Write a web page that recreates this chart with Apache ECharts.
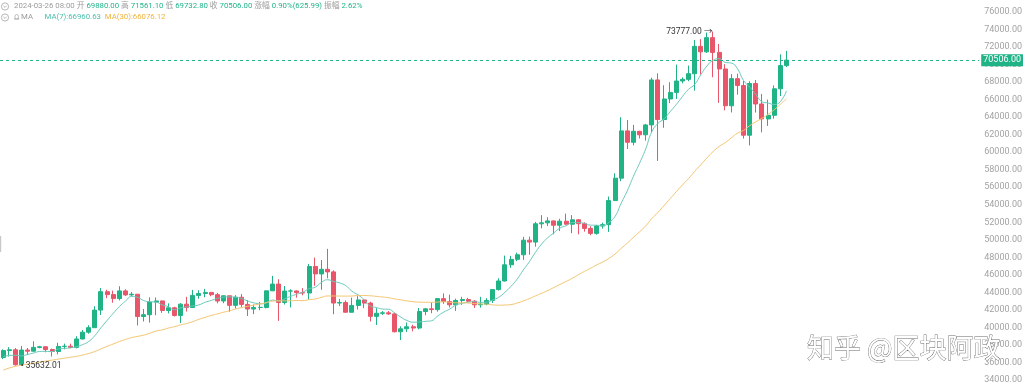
<!DOCTYPE html>
<html>
<head>
<meta charset="utf-8">
<script src="https://cdn.jsdelivr.net/npm/echarts@6/dist/echarts.min.js"></script>
<style>
html,body{margin:0;padding:0;background:#fff;}
#c{width:1025px;height:388px;}
</style>
</head>
<body>
<div id="c"></div>
<script>
// ---- data (BTCUSDT daily) ----
const dates = [
'2023-11-19','2023-11-20','2023-11-21','2023-11-22','2023-11-23','2023-11-24','2023-11-25','2023-11-26','2023-11-27','2023-11-28','2023-11-29','2023-11-30',
'2023-12-01','2023-12-02','2023-12-03','2023-12-04','2023-12-05','2023-12-06','2023-12-07','2023-12-08','2023-12-09','2023-12-10','2023-12-11','2023-12-12','2023-12-13','2023-12-14','2023-12-15','2023-12-16','2023-12-17','2023-12-18','2023-12-19','2023-12-20','2023-12-21','2023-12-22','2023-12-23','2023-12-24','2023-12-25','2023-12-26','2023-12-27','2023-12-28','2023-12-29','2023-12-30','2023-12-31',
'2024-01-01','2024-01-02','2024-01-03','2024-01-04','2024-01-05','2024-01-06','2024-01-07','2024-01-08','2024-01-09','2024-01-10','2024-01-11','2024-01-12','2024-01-13','2024-01-14','2024-01-15','2024-01-16','2024-01-17','2024-01-18','2024-01-19','2024-01-20','2024-01-21','2024-01-22','2024-01-23','2024-01-24','2024-01-25','2024-01-26','2024-01-27','2024-01-28','2024-01-29','2024-01-30','2024-01-31',
'2024-02-01','2024-02-02','2024-02-03','2024-02-04','2024-02-05','2024-02-06','2024-02-07','2024-02-08','2024-02-09','2024-02-10','2024-02-11','2024-02-12','2024-02-13','2024-02-14','2024-02-15','2024-02-16','2024-02-17','2024-02-18','2024-02-19','2024-02-20','2024-02-21','2024-02-22','2024-02-23','2024-02-24','2024-02-25','2024-02-26','2024-02-27','2024-02-28','2024-02-29',
'2024-03-01','2024-03-02','2024-03-03','2024-03-04','2024-03-05','2024-03-06','2024-03-07','2024-03-08','2024-03-09','2024-03-10','2024-03-11','2024-03-12','2024-03-13','2024-03-14','2024-03-15','2024-03-16','2024-03-17','2024-03-18','2024-03-19','2024-03-20','2024-03-21','2024-03-22','2024-03-23','2024-03-24','2024-03-25','2024-03-26'
];
const openV = [
36568,37359,37448,35741,37420,37289,37721,37796,37479,37254,37832,37854,
37723,38682,39457,39973,41980,44080,43746,43293,44170,43713,43789,41243,41450,42890,43023,41929,42240,41365,42657,42271,43652,43869,43997,43740,43017,43613,42520,43442,42627,42099,42283,
42283,44179,44946,42845,44151,44162,43968,43929,46951,46110,46633,46339,42782,42847,41732,42511,43139,42776,41262,41618,41665,41545,39507,39845,40077,39933,41816,42120,42035,43288,42952,
42582,43075,43185,42992,42583,42658,43084,44318,45301,47147,47771,48293,49958,49742,51826,51938,52160,51663,52122,51779,52284,51839,51304,50731,51571,51733,54476,57037,62432,
61130,62387,61987,63113,68245,63724,66074,66823,68124,68313,68955,72078,71452,73072,71388,69499,65300,68393,67610,61937,67840,65501,63796,64209,67234,69880
];
const closeV = [
37359,37448,35741,37420,37289,37721,37796,37479,37254,37832,37854,37723,
38682,39457,39973,41980,44080,43746,43293,44170,43713,43789,41243,41450,42890,43023,41929,42240,41365,42657,42271,43652,43869,43997,43740,43017,43613,42520,43442,42627,42099,42283,42283,
44179,44946,42845,44151,44162,43968,43929,46951,46110,46633,46339,42782,42847,41732,42511,43139,42776,41262,41618,41665,41545,39507,39845,40077,39933,41816,42120,42035,43288,42952,42582,
43075,43185,42992,42583,42658,43084,44318,45301,47147,47771,48293,49958,49742,51826,51938,52160,51663,52122,51779,52284,51839,51304,50731,51571,51733,54476,57037,62432,61130,
62387,61987,63113,68245,63724,66074,66823,68124,68313,68955,72078,71452,73072,71388,69499,65300,68393,67610,61937,67840,65501,63796,64209,67234,69880,70506
];
const highV = [
37500,37750,37649,37892,37653,38414,37892,37820,37589,38250,38150,38145,
38999,39700,40250,42420,44490,44300,44200,44700,44358,44038,43804,42104,43429,43420,43079,42749,42359,42767,43497,44283,44242,44398,44000,43946,43600,43613,43683,43804,43125,42612,42899,
44184,45879,45500,44729,44357,44218,44495,47248,47972,47695,48969,46515,43257,43079,43400,43578,43198,42930,42196,41865,41870,41689,40130,40555,40300,42225,42200,42842,43305,43882,43745,
43285,43488,43380,43119,43494,43344,44368,45614,48200,48170,48535,50334,50368,52043,52816,52574,52200,52400,52985,52817,52366,52000,51548,51698,51955,54938,57588,64000,63676,
63114,62433,63231,68499,69000,67637,67985,69990,68541,69887,72800,72900,73650,73777,72357,70044,68904,68956,68125,68100,68240,66650,65999,67622,71162,71561.1
];
const lowV = [
36384,36677,35632.01,35670,36870,37251,37617,37162,36681,36933,37500,37629,
37615,38627,39280,39973,41415,43335,42821,43081,43584,43565,40222,40680,40555,41400,41666,41605,41250,40500,41811,42207,43275,43442,43566,42750,42765,41794,42167,42318,41300,41520,41965,
42181,44148,40750,42613,42284,43396,43662,43175,44748,44300,45606,41500,42436,41720,41718,42050,42200,40683,40280,41425,41446,39431,38555,39485,39550,39788,41395,41620,41804,42683,42276,
41884,42574,42880,42222,42258,42529,42788,44213,45242,46800,47557,47710,48300,49225,51314,51566,50625,51000,51715,50760,50625,50934,50521,50585,51279,50902,54450,56691,60364,
60777,61561,61321,62300,59005,62787,65603,66082,67861,68094,67024,68845,71333,68555,65630,64780,64533,66565,61555,60775,64529,62260,63000,63825,66414,69732.8
];
// closes of the 29 days before the first visible candle (needed for the moving averages)
const priorCloses = [29910,29990,33070,33900,34500,34150,33900,34090,34540,34490,34650,35420,34940,34730,35080,35050,35050,35420,35640,36700,37320,37140,37070,36490,35550,37880,36160,36600,36570];
const yTicks = {min: 34000, max: 76000, step: 2000};
const lastPrice = 70506;
const highMark = {date: '2024-03-14', value: 73777};
const lowMark = {date: '2023-11-21', value: 35632.01};
const headerInfo = {time: '2024-03-26 08:00', open: '69880.00', high: '71561.10', low: '69732.80', close: '70506.00', change: '0.90%(625.99)', amp: '2.62%'};
const maInfo = {ma7: '66960.63', ma30: '66076.12'};

// ---- chart ----
const upColor = '#1fb386', downColor = '#e9566a';
const maColor7 = '#6bc9bc', maColor30 = '#f4c56f';
const gray = '#9b9b9b', valGreen = '#22b48b';

function movingAvg(n) {
  const all = priorCloses.concat(closeV);
  const off = priorCloses.length;
  return closeV.map((_, i) => {
    const j = i + off;
    let s = 0;
    for (let k = j - n + 1; k <= j; k++) s += all[k];
    return +(s / n).toFixed(2);
  });
}

const candles = dates.map((d, i) => [openV[i], closeV[i], lowV[i], highV[i]]);
const chart = echarts.init(document.getElementById('c'), null, {renderer: 'canvas'});
const font = 'Roboto, "Noto Sans CJK SC", sans-serif';

function chevron(cx, cy) {
  return [
    {type: 'circle', shape: {cx: cx, cy: cy, r: 3.6}, style: {fill: 'none', stroke: '#a5a5a5', lineWidth: 0.8}, silent: true},
    {type: 'polyline', shape: {points: [[cx - 1.6, cy - 0.7], [cx, cy + 0.9], [cx + 1.6, cy - 0.7]]}, style: {fill: 'none', stroke: '#a5a5a5', lineWidth: 0.8}, silent: true}
  ];
}

const option = {
  animation: false,
  backgroundColor: '#fff',
  grid: {left: -3, right: 45, top: 12, bottom: 8},
  xAxis: {
    type: 'category', data: dates, max: 159, boundaryGap: true,
    axisLine: {show: false}, axisTick: {show: false}, axisLabel: {show: false}, splitLine: {show: false}
  },
  yAxis: {
    type: 'value', position: 'right', scale: true,
    min: yTicks.min, max: yTicks.max, interval: yTicks.step,
    axisLine: {show: false}, axisTick: {show: false}, splitLine: {show: false},
    axisLabel: {color: '#a3a3a3', fontSize: 9, fontFamily: font, margin: 5, formatter: v => v.toFixed(2)}
  },
  series: [
    {
      type: 'candlestick', data: candles, barWidth: 4.5, z: 2,
      itemStyle: {color: upColor, color0: downColor, borderColor: upColor, borderColor0: downColor, borderWidth: 1},
      markLine: {
        silent: true, symbol: ['none', 'none'], animation: false,
        lineStyle: {color: upColor, type: [3, 3], width: 1},
        label: {show: true, position: 'end', distance: 2, formatter: lastPrice.toFixed(2), color: '#fff', backgroundColor: upColor, padding: [2, 2, 1, 2], fontSize: 9, fontFamily: font},
        data: [{yAxis: lastPrice}], z: 10
      },
      markPoint: {
        symbol: 'circle', symbolSize: 1, itemStyle: {color: 'rgba(0,0,0,0)'},
        data: [
          {coord: [highMark.date, highMark.value], label: {show: true, position: 'left', distance: 0, formatter: highMark.value.toFixed(2) + ' \u2192', color: '#333', fontSize: 8.5, fontFamily: font}},
          {coord: [lowMark.date, lowMark.value], label: {show: true, position: 'right', distance: 5, formatter: '\u2022 ' + lowMark.value.toFixed(2), color: '#333', fontSize: 8.5, fontFamily: font}}
        ]
      }
    },
    {type: 'line', data: movingAvg(7), symbol: 'none', smooth: true, lineStyle: {color: maColor7, width: 1}, z: 3, silent: true},
    {type: 'line', data: movingAvg(30), symbol: 'none', smooth: true, lineStyle: {color: maColor30, width: 1}, z: 3, silent: true}
  ],
  graphic: [].concat(chevron(5, 6.5), chevron(5, 17.5), [
    {type: 'rect', shape: {x: 0, y: 236, width: 1.2, height: 16}, style: {fill: '#c8c8c8'}, silent: true},
    {
      type: 'text', x: 14, y: 6.5, silent: true,
      style: {
        text: '{g|' + headerInfo.time + '} {g|开} {v|' + headerInfo.open + '} {g|高} {v|' + headerInfo.high + '} {g|低} {v|' + headerInfo.low + '} {g|收} {v|' + headerInfo.close + '} {g|涨幅} {v|' + headerInfo.change + '} {g|振幅} {v|' + headerInfo.amp + '}',
        verticalAlign: 'middle', fontSize: 7.8, fontFamily: font, fill: gray,
        rich: {
          g: {fill: gray, fontSize: 7.8, fontFamily: font},
          v: {fill: valGreen, fontSize: 7.8, fontFamily: font}
        }
      }
    },
    {type: 'rect', shape: {x: 15, y: 14.5, width: 3.4, height: 4.5, r: [1.7, 1.7, 0, 0]}, style: {fill: 'none', stroke: '#a5a5a5', lineWidth: 0.7}, silent: true},
    {type: 'line', shape: {x1: 14, y1: 19, x2: 19.4, y2: 19}, style: {stroke: '#a5a5a5', lineWidth: 0.7}, silent: true},
    {
      type: 'text', x: 21, y: 17.5, silent: true,
      style: {
        text: '{g|MA}      {a|MA(7):' + maInfo.ma7 + '}  {b|MA(30):' + maInfo.ma30 + '}',
        verticalAlign: 'middle', fontSize: 7.8, fontFamily: font, fill: gray,
        rich: {
          g: {fill: gray, fontSize: 7.8, fontFamily: font},
          a: {fill: '#4cc0ad', fontSize: 7.8, fontFamily: font},
          b: {fill: '#f0b43c', fontSize: 7.8, fontFamily: font}
        }
      }
    },
    {
      type: 'text', x: 807, y: 348, z: 100, silent: true,
      style: {text: '知乎 @区块阿政', verticalAlign: 'middle', fontSize: 27, fontFamily: '"Noto Sans CJK SC", sans-serif', fill: '#ffffff', stroke: '#6a6a6a', lineWidth: 0.8}
    }
  ])
};
chart.setOption(option);
</script>
</body>
</html>
